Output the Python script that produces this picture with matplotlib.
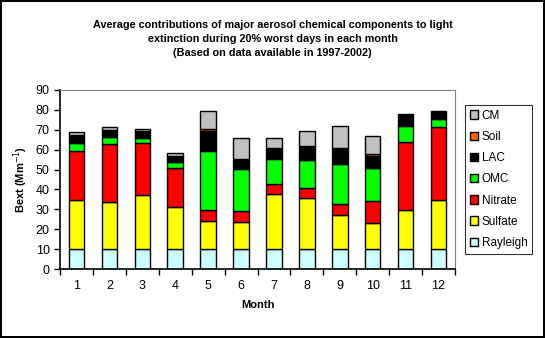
import numpy as np
import matplotlib
matplotlib.use('Agg')
import matplotlib.pyplot as plt

plt.rcParams['font.family'] = ['Liberation Sans', 'DejaVu Sans']

months = ['1', '2', '3', '4', '5', '6', '7', '8', '9', '10', '11', '12']
rayleigh = [10, 10, 10, 10, 10, 10, 10, 10, 10, 10, 10, 10]
sulfate = [24.7, 23.7, 27.2, 21.2, 14.1, 13.6, 27.7, 25.9, 17.1, 13.1, 19.7, 24.7]
nitrate = [24.8, 29.0, 26.0, 19.4, 5.6, 5.6, 5.0, 5.0, 5.6, 11.2, 34.1, 36.8]
omc = [4.0, 3.8, 2.8, 3.3, 29.8, 21.2, 12.8, 14.1, 20.3, 16.6, 8.2, 3.9]
lac = [3.4, 3.2, 2.9, 2.7, 9.9, 4.4, 4.8, 6.3, 7.3, 5.7, 5.2, 3.2]
soil = [0.3, 0.3, 0.3, 0.3, 1.1, 0.7, 0.3, 0.3, 0.3, 1.0, 0.3, 0.3]
cm = [1.5, 1.2, 1.0, 1.3, 8.8, 10.2, 5.1, 7.6, 11.1, 9.1, 0.4, 0.4]

names = ['Rayleigh', 'Sulfate', 'Nitrate', 'OMC', 'LAC', 'Soil', 'CM']
series = [rayleigh, sulfate, nitrate, omc, lac, soil, cm]
colors = ['#CCFFFF', '#FFFF00', '#FF0000', '#00FF00', '#000000', '#FF6600', '#C0C0C0']

fig = plt.figure(figsize=(5.45, 3.38), dpi=100)
fig.patch.set_edgecolor('black')
fig.patch.set_linewidth(1.5)
ax = fig.add_axes([60/545, 1 - 269/338, 395/545, 179/338])

x = np.arange(len(months))
bottom = np.zeros(len(months))
handles = []
for name, vals, c in zip(names, series, colors):
    b = ax.bar(x, vals, 0.47, bottom=bottom, color=c, edgecolor='black',
               linewidth=1.0, label=name)
    handles.append(b)
    bottom += np.array(vals)

ax.set_xlim(-0.5, 11.5)
ax.set_ylim(0, 90)
ax.set_yticks(np.arange(0, 91, 10))
ax.set_xticks(x)
ax.set_xticklabels(months)
ax.set_xticks(np.arange(-0.5, 12, 1), minor=True)
ax.tick_params(axis='x', which='major', length=0, pad=8, labelsize=9)
ax.tick_params(axis='x', which='minor', length=4, width=1, direction='out')
ax.tick_params(axis='y', length=4, width=1, direction='out', labelsize=9)
ax.spines['top'].set_color('#808080')
ax.spines['right'].set_color('#808080')
for s in ['left', 'bottom']:
    ax.spines[s].set_linewidth(1.2)

ax.set_xlabel('Month', fontsize=8, fontweight='bold', labelpad=6)
ax.set_ylabel('Bext (Mm$^{-1}$)', fontsize=8, fontweight='bold', labelpad=4)

fig.text(0.5, 1 - 20/338, 'Average contributions of major aerosol chemical components to light\n'
         'extinction during 20% worst days in each month\n'
         '(Based on data available in 1997-2002)',
         ha='center', va='top', fontsize=7.8, fontweight='bold', linespacing=1.5)

leg = fig.legend(handles[::-1], names[::-1], loc='upper left',
                 bbox_to_anchor=(465/545, 1 - 105/338), frameon=True,
                 fancybox=False, edgecolor='black', fontsize=8.5,
                 handlelength=0.7, handleheight=0.7, handletextpad=0.3,
                 labelspacing=0.78, borderpad=0.4, borderaxespad=0)
leg.get_frame().set_linewidth(0.8)

fig.savefig('out.png', dpi=100)
